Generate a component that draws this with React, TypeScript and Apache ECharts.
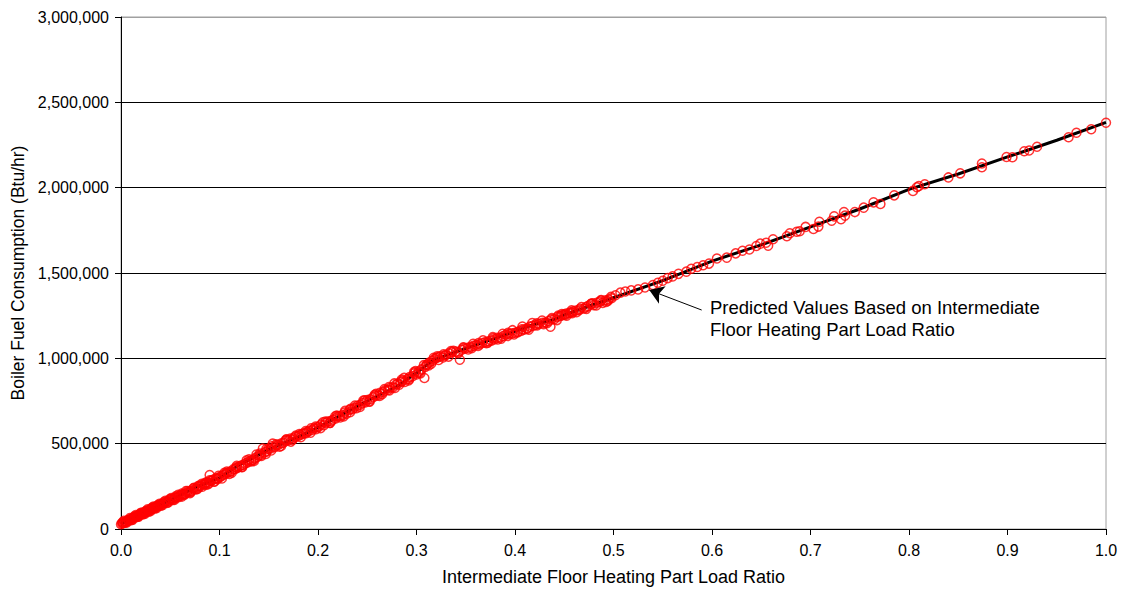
import React, { useEffect, useRef } from "react";
import * as echarts from "echarts";

const xTicks = [0, 0.1, 0.2, 0.3, 0.4, 0.5, 0.6, 0.7, 0.8, 0.9, 1.0];
const yTicks = [0, 500000, 1000000, 1500000, 2000000, 2500000, 3000000];

const predictedLine: [number, number][] = [
  [0, 30000], [0.02, 88000], [0.05, 170000], [0.08, 255000], [0.1, 300000],
  [0.12, 375000], [0.15, 465000], [0.18, 540000], [0.2, 595000], [0.23, 688000],
  [0.25, 750000], [0.28, 835000], [0.3, 915000], [0.317, 990000], [0.35, 1058000],
  [0.39, 1137000], [0.42, 1200000], [0.44, 1228000], [0.45, 1255000], [0.475, 1305000],
  [0.5, 1355000], [0.55, 1455000], [0.6, 1570000], [0.65, 1665000], [0.7, 1770000],
  [0.75, 1875000], [0.8, 1990000], [0.85, 2080000], [0.9, 2180000], [0.95, 2278000],
  [1.0, 2383000],
];

const measuredLow: [number, number][] = [
  [0.000, 28000], [0.001, 33000], [0.002, 35000], [0.003, 36000], [0.004, 41000],
  [0.005, 44000], [0.006, 45000], [0.007, 50000], [0.008, 51000], [0.009, 56000],
  [0.010, 58000], [0.011, 60000], [0.012, 64000], [0.013, 66000], [0.014, 70000],
  [0.015, 71000], [0.016, 76000], [0.017, 78000], [0.018, 79000], [0.019, 84000],
  [0.020, 86000], [0.021, 88000], [0.022, 92000], [0.023, 94000], [0.024, 96000],
  [0.025, 101000], [0.026, 102000], [0.027, 106000], [0.028, 108000], [0.029, 112000],
  [0.030, 114000], [0.031, 116000], [0.032, 121000], [0.033, 122000], [0.034, 126000],
  [0.035, 128000], [0.036, 131000], [0.037, 134000], [0.038, 137000], [0.039, 138000],
  [0.040, 143000], [0.042, 148000], [0.044, 152000], [0.046, 160000], [0.048, 163000],
  [0.050, 172000], [0.052, 176000], [0.054, 178000], [0.055, 184000], [0.057, 186000],
  [0.059, 195000], [0.061, 197000], [0.063, 203000], [0.065, 206000], [0.067, 214000],
  [0.069, 218000], [0.071, 222000], [0.074, 232000], [0.076, 236000], [0.078, 250000],
  [0.080, 249000], [0.083, 261000], [0.085, 262000], [0.087, 273000], [0.089, 270000],
  [0.090, 316000], [0.092, 283000], [0.094, 290000], [0.096, 296000], [0.098, 292000],
  [0.100, 303000],
];

const measuredLowSpread: [number, number][] = [
  [0.003, 48000], [0.006, 38000], [0.009, 64000], [0.012, 55000], [0.015, 82000],
  [0.018, 72000], [0.021, 97000], [0.024, 88000], [0.027, 115000], [0.030, 106000],
  [0.033, 132000], [0.036, 122000], [0.039, 148000], [0.042, 140000], [0.045, 165000],
  [0.048, 155000], [0.051, 182000], [0.054, 170000], [0.058, 200000], [0.062, 190000],
  [0.066, 222000], [0.070, 210000], [0.074, 242000], [0.078, 236000], [0.082, 265000],
  [0.086, 258000], [0.090, 285000], [0.095, 278000], [0.099, 312000],
];

const measuredLowFill: [number, number][] = [
  [0.0015, 40000], [0.0045, 37000], [0.0075, 54000], [0.0105, 51000], [0.0135, 74000],
  [0.0165, 70000], [0.0195, 92000], [0.0225, 86000], [0.0255, 106000], [0.0285, 101000],
  [0.0315, 125000], [0.0345, 120000], [0.0375, 141000], [0.0405, 136000], [0.0435, 158000],
  [0.0465, 153000], [0.0495, 176000], [0.0525, 170000], [0.0555, 191000], [0.0585, 186000],
  [0.0615, 207000], [0.0645, 201000], [0.0675, 222000], [0.0705, 216000], [0.0735, 239000],
  [0.0765, 232000], [0.0795, 254000], [0.0825, 248000], [0.0855, 270000], [0.0885, 262000],
  [0.0915, 284000], [0.0945, 277000], [0.0975, 298000],
];

const measuredMid: [number, number][] = [
  [0.102, 310000], [0.104, 318000], [0.106, 322000], [0.108, 330000], [0.110, 334000],
  [0.112, 338000], [0.114, 350000], [0.116, 352000], [0.118, 358000], [0.120, 366000],
  [0.122, 372000], [0.124, 375000], [0.126, 384000], [0.128, 388000], [0.130, 396000],
  [0.132, 402000], [0.134, 404000], [0.136, 414000], [0.138, 421000], [0.140, 430000],
  [0.142, 434000], [0.144, 472000], [0.146, 450000], [0.148, 455000], [0.150, 470000],
  [0.152, 472000], [0.154, 500000], [0.156, 480000], [0.158, 490000], [0.160, 494000],
  [0.163, 502000], [0.165, 505000], [0.167, 515000], [0.170, 520000], [0.172, 530000],
  [0.175, 531000], [0.177, 540000], [0.180, 545000], [0.182, 551000], [0.184, 558000],
  [0.186, 560000], [0.189, 570000], [0.191, 575000], [0.194, 580000], [0.196, 590000],
  [0.199, 596000], [0.201, 600000], [0.203, 612000], [0.206, 608000], [0.208, 622000],
  [0.210, 630000], [0.213, 632000], [0.215, 640000], [0.218, 648000], [0.220, 660000],
  [0.222, 662000], [0.225, 668000], [0.227, 682000], [0.229, 676000], [0.232, 698000],
  [0.235, 702000], [0.237, 712000], [0.240, 722000], [0.243, 728000], [0.245, 738000],
  [0.248, 742000], [0.250, 756000], [0.253, 760000], [0.256, 772000], [0.258, 780000],
  [0.261, 784000], [0.263, 798000], [0.266, 802000], [0.268, 812000], [0.271, 815000],
  [0.273, 826000], [0.276, 830000], [0.279, 845000], [0.281, 852000], [0.284, 862000],
  [0.286, 868000], [0.288, 862000], [0.291, 880000], [0.293, 890000], [0.296, 895000],
  [0.298, 912000], [0.300, 905000], [0.302, 922000], [0.305, 935000], [0.308, 885000],
  [0.309, 950000], [0.311, 965000], [0.313, 975000], [0.316, 985000], [0.318, 995000],
  [0.320, 1002000], [0.322, 1006000], [0.324, 1012000], [0.327, 1005000], [0.330, 1020000],
  [0.333, 1030000], [0.336, 1035000], [0.340, 1040000], [0.344, 992000], [0.346, 1050000],
  [0.349, 1056000], [0.352, 1062000], [0.355, 1068000], [0.358, 1073000], [0.361, 1080000],
  [0.364, 1082000], [0.367, 1090000], [0.370, 1095000], [0.373, 1100000], [0.376, 1104000],
  [0.379, 1110000], [0.382, 1120000], [0.385, 1122000], [0.388, 1130000], [0.391, 1140000],
  [0.394, 1142000], [0.397, 1146000], [0.400, 1150000], [0.403, 1156000], [0.406, 1160000],
  [0.409, 1168000], [0.412, 1175000], [0.415, 1186000], [0.418, 1190000], [0.421, 1196000],
  [0.424, 1202000], [0.428, 1208000], [0.431, 1210000], [0.434, 1218000], [0.436, 1185000],
  [0.440, 1230000], [0.443, 1242000], [0.446, 1248000], [0.448, 1252000], [0.450, 1258000],
  [0.452, 1262000], [0.455, 1266000], [0.457, 1270000], [0.459, 1275000], [0.462, 1280000],
  [0.466, 1290000], [0.470, 1292000], [0.474, 1306000], [0.477, 1318000], [0.480, 1312000],
  [0.483, 1326000], [0.486, 1330000], [0.489, 1325000], [0.492, 1340000], [0.495, 1345000],
  [0.498, 1352000],
];

const measuredMidSpread: [number, number][] = [
  [0.105, 330000], [0.110, 322000], [0.117, 362000], [0.123, 362000], [0.130, 408000],
  [0.135, 398000], [0.141, 442000], [0.147, 440000], [0.153, 485000], [0.161, 482000],
  [0.168, 525000], [0.174, 522000], [0.181, 557000], [0.188, 562000], [0.193, 590000],
  [0.198, 585000], [0.205, 625000], [0.212, 622000], [0.219, 665000], [0.226, 660000],
  [0.233, 705000], [0.239, 708000], [0.246, 752000], [0.252, 748000], [0.259, 792000],
  [0.265, 790000], [0.272, 832000], [0.278, 826000], [0.285, 875000], [0.292, 870000],
  [0.299, 925000], [0.304, 912000], [0.310, 960000], [0.315, 968000], [0.321, 1012000],
  [0.328, 1015000], [0.335, 1042000], [0.342, 1035000], [0.348, 1062000], [0.356, 1060000],
  [0.363, 1090000], [0.371, 1088000], [0.378, 1118000], [0.386, 1115000], [0.393, 1150000],
  [0.399, 1140000], [0.407, 1170000], [0.414, 1168000], [0.422, 1205000], [0.429, 1200000],
  [0.437, 1228000], [0.444, 1250000], [0.451, 1254000], [0.458, 1265000], [0.465, 1282000],
  [0.472, 1300000], [0.479, 1322000], [0.487, 1338000], [0.494, 1336000],
];

const measuredMidFill: [number, number][] = [
  [0.1025, 296000], [0.1075, 336000], [0.1125, 330000], [0.1175, 370000], [0.1225, 363000],
  [0.1275, 402000], [0.1325, 396000], [0.1375, 436000], [0.1425, 428000], [0.1475, 468000],
  [0.1525, 460000], [0.1575, 496000], [0.1625, 486000], [0.1675, 522000], [0.1725, 512000],
  [0.1775, 548000], [0.1825, 538000], [0.1875, 574000], [0.1925, 564000], [0.1975, 600000],
  [0.2025, 591000], [0.2075, 630000], [0.2125, 622000], [0.2175, 661000], [0.2225, 653000],
  [0.2275, 692000], [0.2325, 684000], [0.2375, 723000], [0.2425, 715000], [0.2475, 754000],
  [0.2525, 746000], [0.2575, 787000], [0.2625, 779000], [0.2675, 820000], [0.2725, 812000],
  [0.2775, 853000], [0.2825, 845000], [0.2875, 886000], [0.2925, 878000], [0.2975, 919000],
  [0.3025, 914000], [0.3075, 960000], [0.3125, 958000], [0.3175, 1003000], [0.3225, 990000],
  [0.3275, 1024000], [0.3325, 1010000], [0.3375, 1044000], [0.3425, 1030000], [0.3475, 1065000],
  [0.3525, 1052000], [0.3575, 1085000], [0.3625, 1072000], [0.3675, 1105000], [0.3725, 1091000],
  [0.3775, 1124000], [0.3825, 1111000], [0.3875, 1144000], [0.3925, 1131000], [0.3975, 1165000],
  [0.4025, 1152000], [0.4075, 1186000], [0.4125, 1173000], [0.4175, 1207000], [0.4225, 1192000],
  [0.4275, 1222000], [0.4325, 1206000], [0.4375, 1236000], [0.4425, 1224000], [0.4475, 1260000],
  [0.4525, 1250000], [0.4575, 1281000], [0.4625, 1270000], [0.4675, 1301000], [0.4725, 1290000],
  [0.4775, 1321000], [0.4825, 1310000], [0.4875, 1341000], [0.4925, 1330000], [0.4975, 1360000],
];

const measuredHigh: [number, number][] = [
  [0.502, 1370000], [0.507, 1385000], [0.512, 1392000], [0.518, 1398000], [0.525, 1404000],
  [0.532, 1415000], [0.540, 1430000], [0.545, 1443000], [0.550, 1455000], [0.555, 1470000],
  [0.560, 1480000], [0.566, 1495000], [0.574, 1508000], [0.579, 1525000], [0.585, 1535000],
  [0.591, 1545000], [0.597, 1555000], [0.605, 1585000], [0.615, 1590000], [0.624, 1615000],
  [0.631, 1630000], [0.638, 1638000], [0.645, 1658000], [0.649, 1672000], [0.655, 1677000],
  [0.657, 1660000], [0.662, 1698000], [0.676, 1715000], [0.679, 1733000], [0.686, 1742000],
  [0.689, 1745000], [0.695, 1770000], [0.703, 1758000], [0.708, 1772000], [0.709, 1800000],
  [0.7215, 1806000], [0.724, 1832000], [0.731, 1815000], [0.734, 1857000], [0.735, 1836000],
  [0.745, 1857000], [0.754, 1883000], [0.764, 1914000], [0.771, 1904000], [0.785, 1955000],
  [0.804, 1981000], [0.808, 2002000], [0.810, 2010000], [0.816, 2020000], [0.840, 2060000],
  [0.852, 2084000], [0.874, 2142000], [0.874, 2120000], [0.899, 2180000], [0.905, 2178000],
  [0.917, 2213000], [0.922, 2218000], [0.930, 2240000], [0.962, 2295000], [0.970, 2322000],
  [0.985, 2342000], [1.000, 2380000],
];

const arrowTail: [number, number] = [0.5895, 1283000];
const arrowHead: [number, number] = [0.5363, 1400000];

const FONT = "'Liberation Sans', Arial, sans-serif";

export default function App() {
  const ref = useRef<HTMLDivElement>(null);
  useEffect(() => {
    if (!ref.current) return;
    const chart = echarts.init(ref.current, null, { renderer: "svg" });
    const gridColors = yTicks.map((v, i) => (i === yTicks.length - 1 ? "#a0a0a0" : "#000000"));
    const measuredSets = [
      measuredLow, measuredLowSpread, measuredLowFill,
      measuredMid, measuredMidSpread, measuredMidFill, measuredHigh,
    ];
    chart.setOption({
      animation: false,
      backgroundColor: "#ffffff",
      textStyle: { fontFamily: FONT },
      grid: {
        left: 121,
        right: 17,
        top: 17,
        bottom: 65,
        containLabel: false,
        outerBoundsMode: "none",
        show: true,
        borderColor: "#a0a0a0",
        borderWidth: 1,
        backgroundColor: "transparent",
      },
      xAxis: {
        type: "value",
        min: xTicks[0],
        max: xTicks[xTicks.length - 1],
        interval: 0.1,
        name: "Intermediate Floor Heating Part Load Ratio",
        nameLocation: "middle",
        nameGap: 39,
        nameTextStyle: { color: "#000", fontSize: 18, fontFamily: FONT },
        axisLine: { show: true, lineStyle: { color: "#000", width: 1 } },
        axisTick: { show: true, inside: false, length: 6, lineStyle: { color: "#000" } },
        axisLabel: {
          color: "#000",
          fontSize: 16,
          fontFamily: FONT,
          margin: 13,
          formatter: (v: number) => v.toFixed(1),
        },
        splitLine: { show: false },
      },
      yAxis: {
        type: "value",
        min: yTicks[0],
        max: yTicks[yTicks.length - 1],
        interval: 500000,
        name: "Boiler Fuel Consumption (Btu/hr)",
        nameLocation: "middle",
        nameGap: 93,
        nameTextStyle: { color: "#000", fontSize: 17.5, fontFamily: FONT },
        axisLine: { show: true, lineStyle: { color: "#000", width: 1 } },
        axisTick: { show: true, inside: false, length: 6, lineStyle: { color: "#000" } },
        axisLabel: {
          color: "#000",
          fontSize: 16,
          fontFamily: FONT,
          margin: 12,
          formatter: (v: number) => v.toLocaleString("en-US"),
        },
        splitLine: { show: true, lineStyle: { color: gridColors, width: 1 } },
      },
      series: [
        {
          type: "line",
          data: predictedLine,
          showSymbol: false,
          symbol: "none",
          z: 2,
          lineStyle: { color: "#000", width: 3 },
          markLine: {
            silent: true,
            symbol: ["none", "arrow"],
            symbolSize: 14,
            label: { show: false },
            lineStyle: { color: "#000", width: 1, type: "solid" },
            data: [[{ coord: arrowTail }, { coord: arrowHead }]],
          },
        },
        ...measuredSets.map((d) => ({
          type: "scatter",
          data: d,
          symbol: "circle",
          symbolSize: 9,
          z: 3,
          itemStyle: { color: "rgba(0,0,0,0)", borderColor: "#ff0000", borderWidth: 1.5 },
        })),
      ],
      graphic: [
        {
          type: "text",
          left: 710,
          top: 296,
          style: {
            text: "Predicted Values Based on Intermediate\nFloor Heating Part Load Ratio",
            font: `18.5px ${FONT}`,
            fill: "#000",
            lineHeight: 22,
          },
        },
      ],
    });
    return () => chart.dispose();
  }, []);
  return (
    <div
      ref={ref}
      style={{ position: "fixed", left: 0, top: 0, width: 1123, height: 594 }}
    />
  );
}
